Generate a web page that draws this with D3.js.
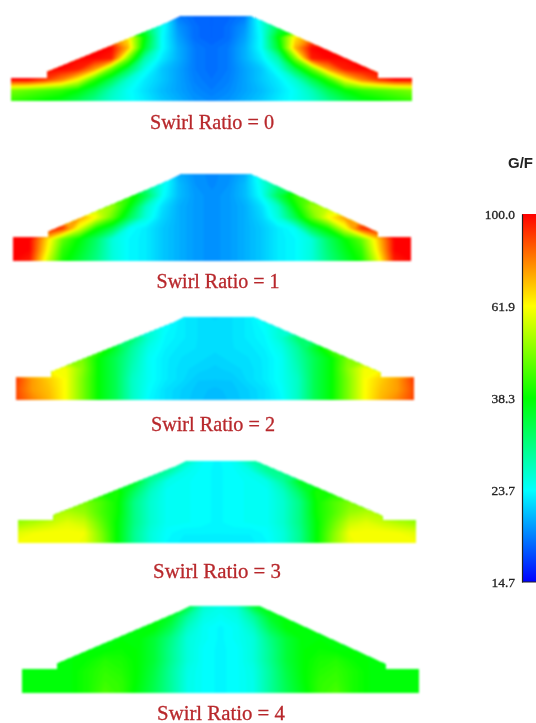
<!DOCTYPE html>
<html>
<head>
<meta charset="utf-8">
<script src="https://cdn.jsdelivr.net/npm/d3@7"></script>
<style>
  html, body { margin: 0; padding: 0; background: #fff; overflow: hidden; }
  text { font-family: "Liberation Serif", serif; }
</style>
</head>
<body>
<div id="chart"></div>
<script>
// G/F values, left half of each section, top row first.
// the sections are symmetric so the right half is mirrored when drawing
var swirl0 = [
  [33.2,33.2,33.2,33.2,33.2,33.2,33.2,33.2,33.2,26.1,18.7,18.0,17.8],
  [33.2,33.2,33.2,33.2,33.2,33.2,33.2,33.2,33.2,24.9,19.6,18.2,17.8],
  [78.7,78.7,78.7,78.7,78.7,78.7,78.7,65.0,38.3,24.3,20.1,18.2,17.8],
  [100,100,100,100,100,100,100,71.5,35.6,24.3,20.6,18.7,18.2],
  [100,100,100,100,100,100,95.3,48.7,28.1,23.1,20.6,18.7,18.2],
  [100,100,100,100,95.3,75.0,46.5,33.2,24.9,21.6,20.1,18.7,18.2],
  [100,100,90.9,78.7,61.9,42.2,33.2,26.1,23.1,21.6,20.1,18.9,18.4],
  [48.7,46.5,44.3,42.2,38.3,33.2,27.4,24.3,22.6,21.1,20.1,19.2,18.7],
  [42.2,40.2,38.3,36.5,33.2,29.5,26.1,24.3,23.1,21.6,20.6,19.6,19.2]
];
var swirl1 = [
  [30.2,30.2,30.2,30.2,30.2,30.2,30.2,30.2,30.2,26.1,20.6,19.4,19.2],
  [31.6,31.6,31.6,31.6,31.6,31.6,31.6,31.6,30.2,24.9,21.1,19.6,19.2],
  [46.5,46.5,46.5,46.5,46.5,46.5,46.5,42.2,33.2,24.3,21.1,19.8,19.4],
  [56.0,56.0,56.0,56.0,56.0,56.0,51.0,38.3,26.7,22.6,20.6,19.8,19.4],
  [75.0,75.0,75.0,75.0,75.0,61.9,46.5,33.2,25.5,22.1,20.6,19.8,19.4],
  [100,100,100,90.9,59.0,40.2,33.2,24.3,23.1,21.6,20.6,19.8,19.4],
  [100,100,68.2,46.5,38.3,32.0,25.5,23.7,23.1,21.6,20.6,19.8,19.4],
  [100,100,65.0,42.2,36.5,31.0,25.5,23.7,23.1,21.6,20.6,19.8,19.4],
  [100,95.3,59.0,40.0,34.8,30.2,25.5,23.7,23.1,21.6,20.6,19.8,19.4]
];
var swirl2 = [
  [24.9,24.9,24.9,24.9,24.9,24.9,24.9,24.9,24.9,24.9,23.1,22.6,22.1],
  [26.1,26.1,26.1,26.1,26.1,26.1,26.1,26.1,26.1,24.0,23.1,22.6,22.6],
  [31.6,31.6,31.6,31.6,31.6,31.6,31.6,31.6,26.1,23.7,23.1,22.6,22.6],
  [44.3,44.3,44.3,44.3,44.3,44.3,35.6,28.8,24.9,23.4,22.8,22.6,22.4],
  [51.1,51.1,51.1,51.1,48.7,38.3,33.2,28.1,24.3,23.1,22.6,22.4,22.1],
  [65.0,65.0,62.0,61.0,50.0,38.3,33.2,27.4,24.3,23.1,22.4,22.1,21.8],
  [90.9,75.0,68.2,61.9,48.7,38.3,33.2,26.7,24.3,23.1,22.4,21.6,21.6],
  [88.0,75.0,70.0,61.9,48.7,38.3,33.2,26.7,24.0,22.6,21.9,21.4,21.1],
  [89.0,78.7,71.5,61.9,48.7,38.3,33.2,26.7,23.7,22.6,21.8,21.3,21.0]
];
var swirl3 = [
  [30.2,30.2,30.2,30.2,30.2,30.2,30.2,30.2,30.2,30.2,27.4,24.3,23.6],
  [30.2,30.2,30.2,30.2,30.2,30.2,30.2,30.2,30.2,28.8,24.9,24.0,23.6],
  [36.5,36.5,36.5,36.5,36.5,36.5,36.5,36.5,28.8,24.9,24.2,24.0,23.6],
  [40.2,40.2,40.2,40.2,40.2,40.2,40.2,32.4,26.7,24.3,24.2,24.0,23.6],
  [48.7,48.7,48.7,48.7,48.7,44.3,39.2,30.2,26.1,24.3,24.2,24.0,23.6],
  [53.6,53.6,53.6,53.6,51.1,44.3,39.2,30.2,26.1,24.3,24.2,24.0,23.6],
  [51.1,53.6,56.3,59.0,56.3,46.5,38.3,30.2,26.1,24.3,24.2,24.0,23.6],
  [59.0,61.0,61.9,61.9,61.0,49.0,38.3,29.5,25.5,23.9,23.4,23.4,23.4],
  [61.9,61.9,61.9,61.9,60.5,50.0,38.3,29.5,25.5,23.7,23.2,23.2,23.0]
];
var swirl4 = [
  [38.3,38.3,38.3,38.3,38.3,38.3,38.3,38.3,38.3,38.3,34.8,26.1,24.9],
  [38.3,38.3,38.3,38.3,38.3,38.3,38.3,38.3,38.3,36.0,28.8,25.0,24.3],
  [38.3,38.3,38.3,38.3,38.3,38.3,38.3,38.3,38.3,33.2,26.7,24.3,23.6],
  [38.3,38.3,38.3,38.3,38.3,38.3,38.3,38.3,35.0,30.2,25.5,24.3,23.6],
  [38.3,38.3,38.3,38.3,38.3,38.3,39.0,38.3,34.8,29.5,25.5,24.0,23.6],
  [38.3,38.3,38.3,38.3,39.0,41.0,40.2,38.3,34.8,29.5,25.5,24.0,23.6],
  [38.3,38.3,38.3,38.3,40.2,42.2,41.0,38.3,34.0,28.8,25.0,24.0,23.6],
  [38.3,38.3,38.3,38.3,40.2,43.0,42.0,38.0,33.5,28.8,24.9,24.0,23.6],
  [38.3,38.3,38.3,38.3,40.2,44.3,42.2,37.4,33.2,28.8,24.9,24.0,23.6]
];

// section outline, percent of width and of height
var profileX = [0, 0, 9, 9, 39.5, 42.5, 59.5, 62.5, 91.5, 91.5, 100, 100];
var profileY = [0, 27, 27, 34, 93, 100, 100, 94, 33, 27, 27, 0];

var swirlLabels = ["Swirl Ratio = 0", "Swirl Ratio = 1", "Swirl Ratio = 2", "Swirl Ratio = 3", "Swirl Ratio = 4"];
var swirlFields = [swirl0, swirl1, swirl2, swirl3, swirl4];

var legendTicks = [100, 61.9, 38.3, 23.7, 14.7];
var legendColors = ["#ff0000", "#ffff00", "#00ff00", "#00ffff", "#0000ff"];

function init() {
    var w = 536;
    var h = 723;

    // where each section sits on the page
    var boxes = [
        {left: 11, right: 412, top: 16, base: 101, labelX: 212, labelY: 129, size: 20.2},
        {left: 13, right: 411, top: 174, base: 261, labelX: 218, labelY: 288, size: 20},
        {left: 16, right: 414, top: 317, base: 400, labelX: 213, labelY: 431, size: 20.2},
        {left: 18, right: 416, top: 461, base: 543, labelX: 217, labelY: 578, size: 20.8},
        {left: 22, right: 419, top: 606, base: 693, labelX: 221, labelY: 720, size: 20.8}
    ];

    var levelScale = d3.scaleLog().domain([14.7, 100]).range([0, 1]);
    var colorScale = d3.scaleLog()
        .domain(legendTicks)
        .range(legendColors)
        .interpolate(d3.interpolateRgb);

    var svg = d3.select("#chart")
        .append("svg")
        .attr("width", w)
        .attr("height", h)
        .style("display", "block");

    var defs = svg.append("defs");

    var soft = defs.append("filter")
        .attr("id", "soft")
        .attr("x", "-5%").attr("y", "-10%")
        .attr("width", "110%").attr("height", "120%")
        .attr("color-interpolation-filters", "sRGB");
    soft.append("feGaussianBlur").attr("stdDeviation", 0.9);

    var softText = defs.append("filter")
        .attr("id", "softText")
        .attr("x", "-5%").attr("y", "-10%")
        .attr("width", "110%").attr("height", "120%")
        .attr("color-interpolation-filters", "sRGB");
    softText.append("feGaussianBlur").attr("stdDeviation", 0.35);

    var thresholds = d3.range(0, 1.001, 1 / 120);

    swirlFields.forEach(function(field, k) {
        var box = boxes[k];
        var rows = field.length;
        var cols = field[0].length * 2 - 1;

        // mirror the half section and flatten for d3.contours
        var values = [];
        field.forEach(function(row) {
            var full = row.concat(row.slice(0, -1).reverse());
            full.forEach(function(v) { values.push(levelScale(v)); });
        });

        var xScale = d3.scaleLinear().domain([0, 100]).range([box.left, box.right]);
        var yScale = d3.scaleLinear().domain([0, 100]).range([box.base, box.top]);
        var colX = d3.scaleLinear().domain([0.5, cols - 0.5]).range([box.left, box.right]);
        var rowY = d3.scaleLinear().domain([0.5, rows - 0.5]).range([box.top, box.base]);

        var outline = d3.line()
            .x(function(d) { return xScale(d); })
            .y(function(d, i) { return yScale(profileY[i]); })
            .curve(d3.curveLinearClosed);

        defs.append("clipPath")
            .attr("id", "section" + k)
            .append("path")
            .attr("d", outline(profileX));

        var path = d3.geoPath(d3.geoTransform({
            point: function(x, y) { this.stream.point(colX(x), rowY(y)); }
        }));

        var contours = d3.contours()
            .size([cols, rows])
            .thresholds(thresholds)(values);

        var g = svg.append("g").attr("filter", "url(#soft)");
        g.append("g")
            .attr("clip-path", "url(#section" + k + ")")
            .selectAll("path")
            .data(contours)
            .enter()
            .append("path")
            .attr("d", path)
            .attr("fill", function(d) { return colorScale(levelScale.invert(d.value)); });

        svg.append("text")
            .attr("x", box.labelX)
            .attr("y", box.labelY)
            .attr("text-anchor", "middle")
            .attr("font-size", box.size)
            .attr("fill", "#b8282c")
            .attr("stroke", "#b8282c")
            .attr("stroke-width", 0.3)
            .attr("filter", "url(#softText)")
            .text(swirlLabels[k]);
    });

    // colour bar
    var barLeft = 522;
    var barScale = d3.scaleLog().domain([14.7, 100]).range([582, 214]);

    var grad = defs.append("linearGradient")
        .attr("id", "bar")
        .attr("x1", 0).attr("y1", 0)
        .attr("x2", 0).attr("y2", 1);
    grad.selectAll("stop")
        .data(legendTicks)
        .enter()
        .append("stop")
        .attr("offset", function(d) { return (barScale(d) - 214) / 368; })
        .attr("stop-color", function(d) { return colorScale(d); });

    svg.append("rect")
        .attr("x", barLeft)
        .attr("y", barScale(100))
        .attr("width", w - barLeft)
        .attr("height", barScale(14.7) - barScale(100))
        .attr("fill", "url(#bar)");

    var yAxis = d3.axisLeft(barScale)
        .tickValues(legendTicks)
        .tickSize(0)
        .tickPadding(7)
        .tickFormat(d3.format(".1f"));

    var axisG = svg.append("g")
        .attr("transform", "translate(" + barLeft + ",0)")
        .call(yAxis);
    axisG.select(".domain").attr("stroke", "#222").attr("stroke-width", 1.2);
    axisG.selectAll("text")
        .attr("font-family", "Liberation Serif")
        .attr("font-size", 13.5)
        .attr("fill", "#222")
        .attr("stroke", "#222")
        .attr("stroke-width", 0.3)
        .attr("filter", "url(#softText)");

    svg.append("line")
        .attr("x1", barLeft).attr("x2", w)
        .attr("y1", barScale(14.7)).attr("y2", barScale(14.7))
        .attr("stroke", "#222");

    svg.append("text")
        .attr("x", 508)
        .attr("y", 168)
        .attr("font-size", 15)
        .attr("font-weight", "bold")
        .attr("fill", "#222")
        .attr("filter", "url(#softText)")
        .style("font-family", "Liberation Sans")
        .text("G/F");
}

window.onload = init;
</script>
</body>
</html>
